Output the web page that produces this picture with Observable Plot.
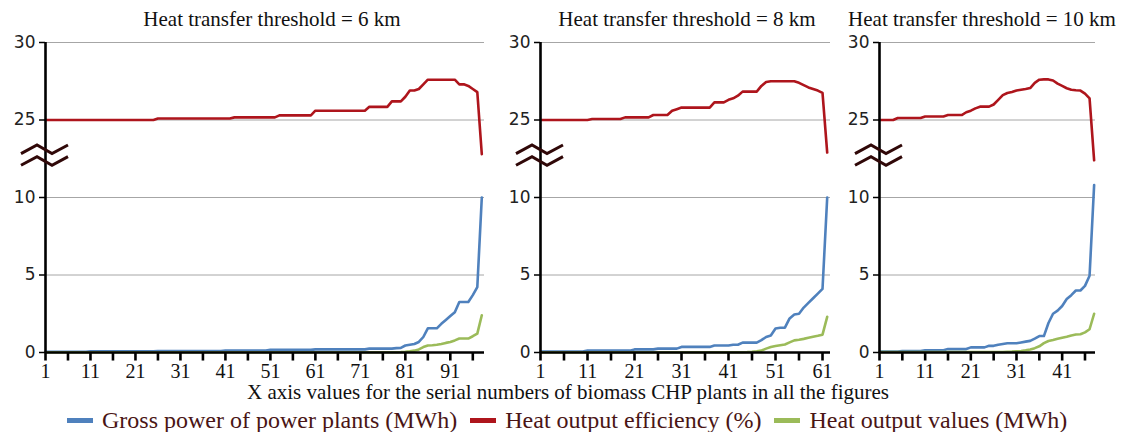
<!DOCTYPE html>
<html><head><meta charset="utf-8">
<script src="https://cdn.jsdelivr.net/npm/d3@7"></script>
<script src="https://cdn.jsdelivr.net/npm/@observablehq/plot@0.6"></script>
<style>
body{margin:0;background:#fff;}
#root{position:relative;width:1123px;height:432px;overflow:hidden;background:#fff;}
.title{position:absolute;top:9px;font-family:"Liberation Serif",serif;font-size:21px;line-height:21px;color:#111;white-space:nowrap;transform:translateX(-50%);}
.panel{position:absolute;top:32px;}
.panel svg{overflow:visible;}
#xtitle{position:absolute;top:382px;left:568px;transform:translateX(-50%);font-family:"Liberation Serif",serif;font-size:21px;line-height:21px;white-space:nowrap;color:#111;}
#legend{position:absolute;top:408px;left:67px;display:flex;align-items:center;font-family:"Liberation Serif",serif;font-size:24px;line-height:24px;color:#4a1515;white-space:nowrap;}
.item{display:flex;align-items:center;margin-right:13px;}
.sw{width:26px;height:5px;margin-right:9px;}
g[aria-label="x-axis tick label"] text{font-family:"Liberation Serif",serif;}
</style></head>
<body><div id="root"></div>
<script>
const seriesNames = ["Gross power of power plants (MWh)", "Heat output efficiency (%)", "Heat output values (MWh)"];
const seriesColors = ["#4f81bd", "#ae151c", "#9bbb59"];
const titles = ["Heat transfer threshold = 6 km", "Heat transfer threshold = 8 km", "Heat transfer threshold = 10 km"];
const xAxisTitle = "X axis values for the serial numbers of biomass CHP plants in all the figures";
const yTicks = [0, 5, 10, 25, 30];
const gridValues = [5, 10, 25, 30];
const breakAt = 12.7;

// 6 km
const tickMarks6 = [1,6,11,16,21,26,31,36,41,46,51,56,61,66,71,76,81,86,91,96];
const tickLabels6 = [1,11,21,31,41,51,61,71,81,91];
const gross6 = [
 0.05,0.05,0.05,0.05,0.05,0.05,0.05,0.05,0.05,0.05,
 0.07,0.07,0.07,0.07,0.07,0.07,0.07,0.07,0.07,0.07,
 0.07,0.07,0.07,0.07,0.07,0.1,0.1,0.1,0.1,0.1,
 0.1,0.1,0.1,0.1,0.1,0.1,0.1,0.1,0.1,0.1,
 0.12,0.12,0.12,0.12,0.12,0.12,0.12,0.12,0.12,0.12,
 0.17,0.17,0.17,0.17,0.17,0.17,0.17,0.17,0.17,0.17,
 0.2,0.2,0.2,0.2,0.2,0.2,0.2,0.2,0.2,0.2,
 0.2,0.2,0.25,0.25,0.25,0.25,0.25,0.25,0.28,0.3,
 0.45,0.5,0.55,0.68,1.0,1.56,1.56,1.56,1.85,2.1,
 2.35,2.6,3.26,3.26,3.26,3.7,4.22,10.0];
const eff6 = [
 25,25,25,25,25,25,25,25,25,25,
 25,25,25,25,25,25,25,25,25,25,
 25,25,25,25,25,25.1,25.1,25.1,25.1,25.1,
 25.1,25.1,25.1,25.1,25.1,25.1,25.1,25.1,25.1,25.1,
 25.1,25.1,25.17,25.17,25.17,25.17,25.17,25.17,25.17,25.17,
 25.17,25.17,25.3,25.3,25.3,25.3,25.3,25.3,25.3,25.3,
 25.6,25.6,25.6,25.6,25.6,25.6,25.6,25.6,25.6,25.6,
 25.6,25.6,25.85,25.85,25.85,25.85,25.85,26.2,26.2,26.2,
 26.5,26.9,26.9,27.0,27.3,27.6,27.6,27.6,27.6,27.6,
 27.6,27.6,27.3,27.3,27.2,27.0,26.8,12.8];
const heat6 = [
 0.02,0.02,0.02,0.02,0.02,0.02,0.02,0.02,0.02,0.02,
 0.02,0.02,0.02,0.02,0.02,0.02,0.02,0.02,0.02,0.02,
 0.02,0.02,0.02,0.02,0.02,0.02,0.02,0.02,0.02,0.02,
 0.02,0.02,0.02,0.02,0.02,0.02,0.02,0.02,0.02,0.02,
 0.02,0.02,0.02,0.02,0.02,0.02,0.02,0.02,0.02,0.02,
 0.02,0.02,0.02,0.02,0.02,0.02,0.02,0.02,0.02,0.02,
 0.02,0.02,0.02,0.02,0.02,0.02,0.02,0.02,0.02,0.02,
 0.02,0.02,0.02,0.02,0.02,0.02,0.02,0.02,0.02,0.03,
 0.05,0.08,0.12,0.2,0.35,0.45,0.47,0.5,0.55,0.62,
 0.68,0.78,0.9,0.9,0.9,1.05,1.22,2.4];

// 8 km
const tickMarks8 = [1,6,11,16,21,26,31,36,41,46,51,56,61];
const tickLabels8 = [1,11,21,31,41,51,61];
const gross8 = [
 0.06,0.06,0.06,0.06,0.06,0.06,0.06,0.06,0.06,0.06,
 0.12,0.12,0.12,0.12,0.12,0.12,0.12,0.12,0.12,0.12,
 0.2,0.2,0.2,0.2,0.2,0.25,0.25,0.25,0.25,0.25,
 0.36,0.36,0.36,0.36,0.36,0.36,0.36,0.45,0.45,0.45,
 0.45,0.5,0.5,0.64,0.64,0.64,0.64,0.8,1.0,1.1,
 1.55,1.6,1.6,2.2,2.45,2.5,2.9,3.2,3.5,3.8,
 4.1,10.0];
const eff8 = [
 25,25,25,25,25,25,25,25,25,25,
 25,25.06,25.06,25.06,25.06,25.06,25.06,25.06,25.17,25.17,
 25.17,25.17,25.17,25.17,25.32,25.32,25.32,25.32,25.6,25.7,
 25.8,25.8,25.8,25.8,25.8,25.8,25.8,26.14,26.14,26.14,
 26.3,26.4,26.57,26.83,26.83,26.83,26.83,27.2,27.45,27.5,
 27.5,27.5,27.5,27.5,27.5,27.4,27.25,27.1,27.0,26.9,
 26.75,12.9];
const heat8 = [
 0.02,0.02,0.02,0.02,0.02,0.02,0.02,0.02,0.02,0.02,
 0.02,0.02,0.02,0.02,0.02,0.02,0.02,0.02,0.02,0.02,
 0.02,0.02,0.02,0.02,0.02,0.02,0.02,0.02,0.02,0.02,
 0.02,0.02,0.02,0.02,0.02,0.02,0.02,0.02,0.02,0.02,
 0.02,0.02,0.02,0.02,0.03,0.05,0.08,0.12,0.25,0.35,
 0.42,0.47,0.52,0.65,0.78,0.82,0.88,0.95,1.02,1.08,
 1.15,2.3];

// 10 km
const tickMarks10 = [1,6,11,16,21,26,31,36,41,46];
const tickLabels10 = [1,11,21,31,41];
const gross10 = [
 0.06,0.06,0.06,0.06,0.06,0.1,0.1,0.1,0.1,0.1,
 0.15,0.15,0.15,0.15,0.15,0.22,0.22,0.22,0.22,0.22,
 0.33,0.33,0.33,0.33,0.43,0.43,0.5,0.55,0.6,0.6,
 0.6,0.65,0.7,0.75,0.9,1.06,1.06,1.9,2.5,2.7,
 3.0,3.45,3.7,4.0,4.0,4.3,4.95,10.8];
const eff10 = [
 25,25,25,25,25.13,25.13,25.13,25.13,25.13,25.13,
 25.23,25.23,25.23,25.23,25.23,25.32,25.32,25.32,25.32,25.5,
 25.6,25.75,25.86,25.86,25.86,26.0,26.3,26.6,26.74,26.8,
 26.9,26.95,27.0,27.06,27.4,27.6,27.62,27.62,27.55,27.35,
 27.2,27.05,26.95,26.92,26.9,26.7,26.4,12.4];
const heat10 = [
 0.03,0.03,0.03,0.03,0.03,0.03,0.03,0.03,0.03,0.03,
 0.03,0.03,0.03,0.03,0.03,0.03,0.03,0.03,0.03,0.03,
 0.03,0.03,0.03,0.03,0.03,0.03,0.03,0.03,0.05,0.06,
 0.08,0.1,0.14,0.2,0.28,0.4,0.6,0.74,0.8,0.88,
 0.95,1.02,1.1,1.16,1.18,1.3,1.5,2.5];

const panels = [
  {title: titles[0], left: 0, width: 500, ml: 45, mr: 16, xMax: 98.6, titleX: 272, gross: gross6, eff: eff6, heat: heat6, marks: tickMarks6, labels: tickLabels6},
  {title: titles[1], left: 480, width: 360, ml: 60, mr: 10, xMax: 62.7, titleX: 687, gross: gross8, eff: eff8, heat: heat8, marks: tickMarks8, labels: tickLabels8},
  {title: titles[2], left: 820, width: 303, ml: 59, mr: 28, xMax: 48.3, titleX: 982, gross: gross10, eff: eff10, heat: heat10, marks: tickMarks10, labels: tickLabels10}
];

// broken axis: values 15..25 are cut out, values >= 25 are shifted down by 10
const GAP = 10;
const toAxis = v => (v >= 25 ? v - GAP : v);
const fromAxis = d => (d >= 15 ? d + GAP : d);
const tickDepth = -0.55; // x tick marks hang just below the zero line

const root = document.getElementById("root");

function breakMark(index, scales) {
  const x0 = scales.x(1), yc = scales.y(toAxis(breakAt));
  const g = d3.create("svg:g");
  for (const off of [-5.8, 5.8]) {
    const y = yc + off;
    const pts = [[x0 - 24, y + 4.3], [x0 - 8, y - 4.3], [x0 + 7, y + 4.3], [x0 + 23, y - 4.3]];
    g.append("path")
      .attr("d", "M" + pts.map(p => p.join(",")).join("L"))
      .attr("fill", "none").attr("stroke", "#300808").attr("stroke-width", 3).attr("stroke-linejoin", "miter");
  }
  return g.node();
}

for (const p of panels) {
  const rows = [];
  p.gross.forEach((v, i) => rows.push({x: i + 1, v, s: seriesNames[0]}));
  p.eff.forEach((v, i) => rows.push({x: i + 1, v, s: seriesNames[1]}));
  p.heat.forEach((v, i) => rows.push({x: i + 1, v, s: seriesNames[2]}));

  const t = document.createElement("div");
  t.className = "title";
  t.style.left = p.titleX + "px";
  t.textContent = p.title;
  root.appendChild(t);

  const chart = Plot.plot({
    width: p.width,
    height: 352,
    marginLeft: p.ml,
    marginRight: p.mr,
    marginTop: 10,
    marginBottom: 32,
    x: {domain: [1, p.xMax]},
    y: {domain: [0, toAxis(30)]},
    color: {domain: seriesNames, range: seriesColors},
    style: {background: "none", fontFamily: "DejaVu Sans", overflow: "visible", color: "#000"},
    marks: [
      Plot.ruleY(gridValues.map(toAxis), {x1: 1, x2: p.xMax, stroke: "#a6a6a6", strokeWidth: 1}),
      Plot.line(rows, {x: "x", y: d => toAxis(d.v), z: "s", stroke: "s", strokeWidth: 2.6, strokeLinejoin: "round"}),
      Plot.ruleX([1], {y1: 0, y2: toAxis(30), stroke: "#000", strokeWidth: 2.6}),
      Plot.ruleY([0], {x1: 1, x2: p.xMax, stroke: "#000", strokeWidth: 2.6}),
      Plot.ruleX(p.marks, {y1: 0, y2: tickDepth, stroke: "#000", strokeWidth: 2.6}),
      Plot.axisY({ticks: yTicks.map(toAxis), tickSize: 6, tickPadding: 4, fontSize: 17, label: null, tickFormat: d => String(fromAxis(d)), strokeWidth: 1.5, fill: "#222"}),
      Plot.axisX({ticks: p.labels, tickSize: 0, tickPadding: 11, fontSize: 20, fontFamily: "Liberation Serif", label: null, tickFormat: d => String(d), fill: "#111"}),
      breakMark
    ]
  });
  const wrap = document.createElement("div");
  wrap.className = "panel";
  wrap.style.left = p.left + "px";
  wrap.appendChild(chart);
  root.appendChild(wrap);
}

const xt = document.createElement("div");
xt.id = "xtitle";
xt.textContent = xAxisTitle;
root.appendChild(xt);

const lg = document.createElement("div");
lg.id = "legend";
seriesNames.forEach((name, i) => {
  const it = document.createElement("div");
  it.className = "item";
  const sw = document.createElement("span");
  sw.className = "sw";
  sw.style.background = seriesColors[i];
  const tx = document.createElement("span");
  tx.textContent = name;
  it.appendChild(sw);
  it.appendChild(tx);
  lg.appendChild(it);
});
root.appendChild(lg);
</script>
</body></html>
